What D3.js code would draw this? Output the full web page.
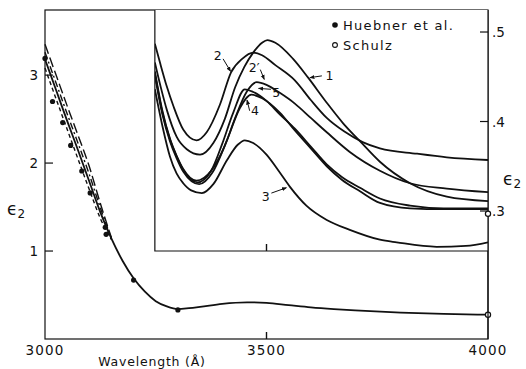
<!DOCTYPE html>
<html><head><meta charset="utf-8">
<script src="https://cdn.jsdelivr.net/npm/d3@7"></script>
<style>
body{margin:0;background:#fff}
svg{display:block}
text{font-family:"DejaVu Sans",sans-serif;fill:#111}
</style></head><body>
<svg id="chart" width="526" height="369"></svg>
<script>
// ---- axis ticks ----
const wlTicks = [3000, 3500, 4000];
const mainTicks = [1, 2, 3];
const insetTicks = [0.3, 0.4, 0.5];

// ---- main panel: eps2 over the full range ----
const mainWl  = [3000,3025,3050,3075,3100,3125,3150,3175,3200,3225,3250,3275,3300,3325,3350,3400,3456,3500,3550,3600,3652,3700,3803,3900,4000];
const mainEps = [3.18,2.83,2.48,2.14,1.79,1.44,1.14,0.89,0.69,0.54,0.43,0.37,0.34,0.35,0.365,0.40,0.417,0.41,0.385,0.36,0.34,0.325,0.30,0.285,0.276];

// alternative fits on the steep edge
const fitWl        = [3000,3025,3050,3075,3100,3125,3150];
const shortDashEps = [3.08,2.73,2.385,2.04,1.70,1.37,1.13];
const dashDotEps   = [3.26,2.91,2.56,2.22,1.87,1.49,1.14];
const longDashEps  = [3.35,3.00,2.65,2.31,1.96,1.54,1.15];

// measured points
const huebnerWl  = [3000,3017,3040,3058,3083,3102,3136,3138,3200,3300];
const huebnerEps = [3.19,2.70,2.46,2.20,1.91,1.66,1.27,1.19,0.67,0.33];
const schulzWl   = [4000];
const schulzEps  = [0.276];
const schulzEpsInset = [0.297];

// ---- inset: computed curves ----
const c1Wl  = [3248,3262,3275,3297,3320,3350,3380,3406,3429,3450,3470,3490,3502,3520,3560,3594,3636,3673,3711,3756,3824,3907,4000];
const c1Eps = [0.466,0.437,0.413,0.383,0.369,0.363,0.376,0.403,0.438,0.461,0.477,0.488,0.491,0.488,0.470,0.449,0.421,0.398,0.378,0.355,0.331,0.316,0.311];
const c2Wl  = [3248,3260,3275,3290,3312,3342,3365,3395,3420,3445,3470,3490,3520,3564,3600,3636,3675,3717,3756,3840,3907,4000];
const c2Eps = [0.487,0.465,0.439,0.417,0.391,0.379,0.388,0.419,0.455,0.470,0.477,0.474,0.463,0.446,0.424,0.404,0.389,0.377,0.370,0.364,0.360,0.357];
const c2pWl  = [3248,3265,3282,3297,3312,3342,3375,3405,3430,3455,3478,3500,3530,3564,3600,3636,3688,3756,3824,3907,4000];
const c2pEps = [0.456,0.412,0.381,0.362,0.347,0.334,0.345,0.372,0.405,0.433,0.444,0.441,0.432,0.420,0.404,0.388,0.366,0.345,0.331,0.325,0.321];
const c5Wl  = [3248,3265,3282,3297,3312,3344,3375,3400,3425,3451,3470,3500,3530,3564,3600,3636,3670,3711,3756,3824,3900,4000];
const c5Eps = [0.454,0.410,0.380,0.361,0.346,0.332,0.345,0.375,0.410,0.436,0.433,0.423,0.408,0.392,0.372,0.352,0.338,0.326,0.314,0.306,0.303,0.303];
const c4Wl  = [3248,3265,3282,3297,3312,3348,3378,3410,3440,3466,3490,3530,3564,3600,3636,3670,3711,3756,3824,3900,4000];
const c4Eps = [0.452,0.408,0.378,0.359,0.344,0.330,0.343,0.378,0.415,0.430,0.426,0.410,0.390,0.370,0.350,0.335,0.322,0.309,0.303,0.302,0.302];
const c3Wl  = [3248,3265,3282,3297,3312,3330,3354,3380,3411,3435,3451,3470,3500,3530,3553,3590,3636,3688,3756,3794,3884,3950,4000];
const c3Eps = [0.436,0.395,0.361,0.342,0.331,0.323,0.320,0.330,0.357,0.374,0.379,0.376,0.363,0.343,0.327,0.306,0.290,0.279,0.268,0.265,0.260,0.261,0.265];

// curve labels: text anchor and pointer tail/head, in (wavelength, eps2)
const curveLabels = [
  {t:"1",  at:[3642,0.452], from:[3625,0.451], to:[3598,0.449]},
  {t:"2",  at:[3390,0.474], from:[3402,0.470], to:[3419,0.456]},
  {t:"2′", at:[3472,0.461], from:[3486,0.458], to:[3495,0.447]},
  {t:"5",  at:[3522,0.433], from:[3510,0.436], to:[3482,0.437]},
  {t:"4",  at:[3474,0.413], from:[3462,0.412], to:[3456,0.424]},
  {t:"3",  at:[3498,0.317], from:[3511,0.320], to:[3545,0.326]}
];

const svg = d3.select("#chart");
const x = d3.scaleLinear().domain([3000, 4000]).range([45, 488]);
const yMain = d3.scaleLinear().domain([0, 3.74]).range([339, 10]);
const insetLeft = 3248;
const yInset = d3.scaleLinear().domain([0.2553, 0.5246]).range([251, 10]);

const zip = (a, b) => a.map((v, i) => [v, b[i]]);
const lineMain = d3.line().x(d => x(d[0])).y(d => yMain(d[1])).curve(d3.curveMonotoneX);
const lineInset = d3.line().x(d => x(d[0])).y(d => yInset(d[1])).curve(d3.curveMonotoneX);

const ink = "#111";

// frame of the main panel
svg.append("rect").attr("x", x(3000)).attr("y", yMain(3.74))
  .attr("width", x(4000) - x(3000)).attr("height", yMain(0) - yMain(3.74))
  .attr("fill", "none").attr("stroke", ink).attr("stroke-width", 1.2);

// main curves
svg.append("path").datum(zip(mainWl, mainEps)).attr("d", lineMain)
  .attr("fill", "none").attr("stroke", ink).attr("stroke-width", 1.8);
[[shortDashEps, "4,3"], [dashDotEps, "7,3,2,3"], [longDashEps, "10,4"]].forEach(([eps, dash]) => {
  svg.append("path").datum(zip(fitWl, eps)).attr("d", lineMain)
    .attr("fill", "none").attr("stroke", ink).attr("stroke-width", 1.4)
    .attr("stroke-dasharray", dash);
});

// measured points
svg.append("g").selectAll("circle").data(zip(huebnerWl, huebnerEps)).join("circle")
  .attr("cx", d => x(d[0])).attr("cy", d => yMain(d[1])).attr("r", 2.6).attr("fill", ink);
svg.append("g").selectAll("circle").data(zip(schulzWl, schulzEps)).join("circle")
  .attr("cx", d => x(d[0])).attr("cy", d => yMain(d[1])).attr("r", 2.6)
  .attr("fill", "#fff").attr("stroke", ink).attr("stroke-width", 1.2);

// bottom axis ticks (only the middle one shows as a mark)
svg.append("g").selectAll("line").data(wlTicks.filter(t => t > 3000 && t < 4000)).join("line")
  .attr("x1", d => x(d)).attr("x2", d => x(d)).attr("y1", yMain(0)).attr("y2", yMain(0) - 7)
  .attr("stroke", ink).attr("stroke-width", 1.4);
svg.append("g").selectAll("text").data(wlTicks).join("text")
  .attr("x", d => x(d)).attr("y", 355).attr("text-anchor", "middle")
  .attr("font-size", 13.5).attr("letter-spacing", 1.2).text(d => d);
svg.append("text").attr("x", 152).attr("y", 366).attr("text-anchor", "middle")
  .attr("font-size", 12.5).attr("letter-spacing", 0.8).text("Wavelength (Å)");

// left axis ticks
svg.append("g").selectAll("line").data(mainTicks).join("line")
  .attr("x1", x(3000)).attr("x2", x(3000) + 8).attr("y1", d => yMain(d)).attr("y2", d => yMain(d))
  .attr("stroke", ink).attr("stroke-width", 1.2);
svg.append("g").selectAll("text").data(mainTicks).join("text")
  .attr("x", 38).attr("y", d => yMain(d) + 5).attr("text-anchor", "end")
  .attr("font-size", 13.5).text(d => d);
const epsL = svg.append("text").attr("x", 7).attr("y", 215).attr("font-size", 17);
epsL.append("tspan").text("ϵ");
epsL.append("tspan").attr("font-size", 12).attr("dy", 3).text("2");

// ---- inset ----
const ix0 = x(insetLeft), ix1 = x(4000);
svg.append("rect").attr("x", ix0).attr("y", yInset(0.5246)).attr("width", ix1 - ix0)
  .attr("height", yInset(0.2553) - yInset(0.5246)).attr("fill", "#fff");
svg.append("path")
  .attr("d", `M${ix0},${yInset(0.5246)}V${yInset(0.2553)}H${ix1}`)
  .attr("fill", "none").attr("stroke", ink).attr("stroke-width", 1.2);
svg.append("line").attr("x1", ix1).attr("x2", ix1).attr("y1", yMain(3.74)).attr("y2", yMain(0))
  .attr("stroke", ink).attr("stroke-width", 1.2);
svg.append("line").attr("x1", x(3500)).attr("x2", x(3500))
  .attr("y1", yInset(0.2553)).attr("y2", yInset(0.2553) - 7)
  .attr("stroke", ink).attr("stroke-width", 1.4);

svg.append("clipPath").attr("id", "insetClip").append("rect")
  .attr("x", ix0).attr("y", yInset(0.5246)).attr("width", ix1 - ix0)
  .attr("height", yInset(0.2553) - yInset(0.5246));
const ig = svg.append("g").attr("clip-path", "url(#insetClip)");
[[c1Wl, c1Eps], [c2Wl, c2Eps], [c2pWl, c2pEps], [c5Wl, c5Eps], [c4Wl, c4Eps], [c3Wl, c3Eps]]
  .forEach(([w, e]) => {
    ig.append("path").datum(zip(w, e)).attr("d", lineInset)
      .attr("fill", "none").attr("stroke", ink).attr("stroke-width", 1.8);
  });

// right axis of the inset
svg.append("g").selectAll("line").data(insetTicks).join("line")
  .attr("x1", ix1 - 8).attr("x2", ix1).attr("y1", d => yInset(d)).attr("y2", d => yInset(d))
  .attr("stroke", ink).attr("stroke-width", 1.2);
svg.append("g").selectAll("text").data(insetTicks).join("text")
  .attr("x", ix1 + 4).attr("y", d => yInset(d) + 5)
  .attr("font-size", 13.5).text(d => d3.format(".1f")(d).replace(/^0/, ""));
const epsR = svg.append("text").attr("x", 503).attr("y", 185).attr("font-size", 17);
epsR.append("tspan").text("ϵ");
epsR.append("tspan").attr("font-size", 12).attr("dy", 3).text("2");

svg.append("g").selectAll("circle").data(zip(schulzWl, schulzEpsInset)).join("circle")
  .attr("cx", d => x(d[0])).attr("cy", d => yInset(d[1])).attr("r", 2.6)
  .attr("fill", "#fff").attr("stroke", ink).attr("stroke-width", 1.2);

// curve labels with pointers
svg.append("defs").append("marker").attr("id", "tip").attr("viewBox", "0 0 10 10")
  .attr("refX", 9).attr("refY", 5).attr("markerWidth", 5).attr("markerHeight", 5)
  .attr("orient", "auto").append("path").attr("d", "M0,1L10,5L0,9Z").attr("fill", ink);
curveLabels.forEach(l => {
  svg.append("text").attr("x", x(l.at[0])).attr("y", yInset(l.at[1]) + 5)
    .attr("text-anchor", "middle").attr("font-size", 12.5).text(l.t);
  svg.append("line").attr("x1", x(l.from[0])).attr("y1", yInset(l.from[1]))
    .attr("x2", x(l.to[0])).attr("y2", yInset(l.to[1]))
    .attr("stroke", ink).attr("stroke-width", 1).attr("marker-end", "url(#tip)");
});

// legend
const legend = svg.append("g");
legend.append("circle").attr("cx", 335).attr("cy", 25).attr("r", 2.8).attr("fill", ink);
legend.append("text").attr("x", 343).attr("y", 30).attr("font-size", 13).attr("letter-spacing", 1.3).text("Huebner et al.");
legend.append("circle").attr("cx", 335).attr("cy", 45).attr("r", 2.4).attr("fill", "#fff").attr("stroke", ink).attr("stroke-width", 1.1);
legend.append("text").attr("x", 343).attr("y", 50).attr("font-size", 13).attr("letter-spacing", 1.3).text("Schulz");
</script>
</body></html>
